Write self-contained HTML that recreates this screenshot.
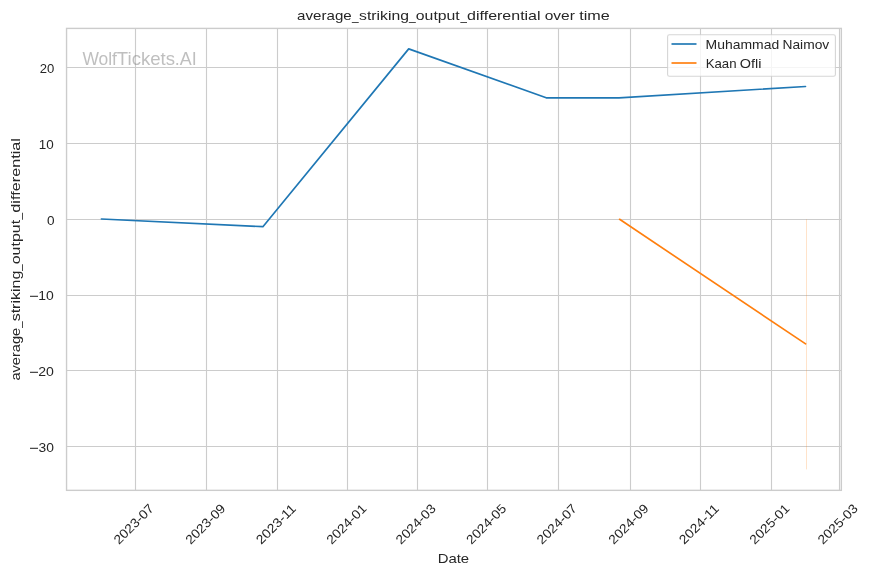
<!DOCTYPE html>
<html><head><meta charset="utf-8"><title>average_striking_output_differential over time</title>
<style>html,body{margin:0;padding:0;background:#fff;}svg{display:block;will-change:transform;}text{font-family:"Liberation Sans",sans-serif;fill:#262626;}</style></head><body>
<svg width="871" height="575" viewBox="0 0 871 575">
<rect x="0" y="0" width="871" height="575" fill="#ffffff"/>
<line x1="135.50" y1="28.40" x2="135.50" y2="490.35" stroke="#cccccc" stroke-width="1.11"/>
<line x1="206.50" y1="28.40" x2="206.50" y2="490.35" stroke="#cccccc" stroke-width="1.11"/>
<line x1="277.50" y1="28.40" x2="277.50" y2="490.35" stroke="#cccccc" stroke-width="1.11"/>
<line x1="347.50" y1="28.40" x2="347.50" y2="490.35" stroke="#cccccc" stroke-width="1.11"/>
<line x1="417.50" y1="28.40" x2="417.50" y2="490.35" stroke="#cccccc" stroke-width="1.11"/>
<line x1="487.50" y1="28.40" x2="487.50" y2="490.35" stroke="#cccccc" stroke-width="1.11"/>
<line x1="558.50" y1="28.40" x2="558.50" y2="490.35" stroke="#cccccc" stroke-width="1.11"/>
<line x1="630.50" y1="28.40" x2="630.50" y2="490.35" stroke="#cccccc" stroke-width="1.11"/>
<line x1="700.50" y1="28.40" x2="700.50" y2="490.35" stroke="#cccccc" stroke-width="1.11"/>
<line x1="771.50" y1="28.40" x2="771.50" y2="490.35" stroke="#cccccc" stroke-width="1.11"/>
<line x1="839.50" y1="28.40" x2="839.50" y2="490.35" stroke="#cccccc" stroke-width="1.11"/>
<line x1="66.55" y1="67.50" x2="841.35" y2="67.50" stroke="#cccccc" stroke-width="1.11"/>
<line x1="66.55" y1="143.50" x2="841.35" y2="143.50" stroke="#cccccc" stroke-width="1.11"/>
<line x1="66.55" y1="219.50" x2="841.35" y2="219.50" stroke="#cccccc" stroke-width="1.11"/>
<line x1="66.55" y1="295.50" x2="841.35" y2="295.50" stroke="#cccccc" stroke-width="1.11"/>
<line x1="66.55" y1="370.50" x2="841.35" y2="370.50" stroke="#cccccc" stroke-width="1.11"/>
<line x1="66.55" y1="446.50" x2="841.35" y2="446.50" stroke="#cccccc" stroke-width="1.11"/>
<text y="64.7" font-size="17.9" style="fill:#808080" fill-opacity="0.5"><tspan x="82.42" textLength="34.55" lengthAdjust="spacingAndGlyphs">Wolf</tspan><tspan x="116.88" textLength="58.19" lengthAdjust="spacingAndGlyphs">Tickets</tspan><tspan x="174.86" textLength="21.89" lengthAdjust="spacingAndGlyphs">.AI</tspan></text>
<line x1="806.5" y1="219.3" x2="806.5" y2="469.4" stroke="#ff7f0e" stroke-opacity="0.22" stroke-width="1"/>
<polyline fill="none" stroke="#1f77b4" stroke-width="1.67" stroke-linejoin="round" stroke-linecap="round" points="101.4,219.0 262.9,226.7 408.7,48.9 546.2,97.8 619.0,97.8 805.5,86.5"/>
<polyline fill="none" stroke="#ff7f0e" stroke-width="1.67" stroke-linejoin="round" stroke-linecap="round" points="619.6,219.3 805.6,343.9"/>
<rect x="66.55" y="28.40" width="774.80" height="461.95" fill="none" stroke="#cccccc" stroke-width="1.39"/>
<rect x="667.6" y="34.8" width="167.8" height="41.5" rx="1.9" ry="1.9" fill="#ffffff" fill-opacity="0.8" stroke="#cccccc" stroke-opacity="0.8" stroke-width="1.11"/>
<line x1="671.5" y1="44.0" x2="696.5" y2="44.0" stroke="#1f77b4" stroke-width="1.67"/>
<line x1="671.5" y1="63.0" x2="696.5" y2="63.0" stroke="#ff7f0e" stroke-width="1.67"/>
<text y="48.9" font-size="12.9"><tspan x="705.61" textLength="73.59" lengthAdjust="spacingAndGlyphs">Muhammad</tspan><tspan x="782.47" textLength="46.78" lengthAdjust="spacingAndGlyphs">Naimov</tspan></text>
<text y="67.75" font-size="12.9"><tspan x="705.66" textLength="30.90" lengthAdjust="spacingAndGlyphs">Kaan</tspan><tspan x="739.82" textLength="21.66" lengthAdjust="spacingAndGlyphs">Ofli</tspan></text>
<text y="19.8" font-size="13.6"><tspan x="297.11" textLength="54.56" lengthAdjust="spacingAndGlyphs">average</tspan><tspan x="352.08" textLength="6.59" lengthAdjust="spacingAndGlyphs">_</tspan><tspan x="359.06" textLength="49.85" lengthAdjust="spacingAndGlyphs">striking</tspan><tspan x="408.88" textLength="6.68" lengthAdjust="spacingAndGlyphs">_</tspan><tspan x="415.84" textLength="43.88" lengthAdjust="spacingAndGlyphs">output</tspan><tspan x="460.47" textLength="6.40" lengthAdjust="spacingAndGlyphs">_</tspan><tspan x="467.13" textLength="73.44" lengthAdjust="spacingAndGlyphs">differential</tspan><tspan x="544.65" textLength="30.21" lengthAdjust="spacingAndGlyphs">over</tspan><tspan x="579.16" textLength="30.56" lengthAdjust="spacingAndGlyphs">time</tspan></text>
<text y="562.8" font-size="13.3"><tspan x="437.68" textLength="31.49" lengthAdjust="spacingAndGlyphs">Date</tspan></text>
<text transform="translate(19.8,380) rotate(-90)" y="0" font-size="13.6"><tspan x="-0.62" textLength="52.77" lengthAdjust="spacingAndGlyphs">average</tspan><tspan x="52.37" textLength="6.30" lengthAdjust="spacingAndGlyphs">_</tspan><tspan x="58.65" textLength="50.78" lengthAdjust="spacingAndGlyphs">striking</tspan><tspan x="109.27" textLength="6.30" lengthAdjust="spacingAndGlyphs">_</tspan><tspan x="115.73" textLength="44.39" lengthAdjust="spacingAndGlyphs">output</tspan><tspan x="160.48" textLength="6.49" lengthAdjust="spacingAndGlyphs">_</tspan><tspan x="167.32" textLength="74.67" lengthAdjust="spacingAndGlyphs">differential</tspan></text>
<text y="72.95" font-size="12.9"><tspan x="39.84" textLength="14.57" lengthAdjust="spacingAndGlyphs">20</tspan></text>
<text y="148.95" font-size="12.9"><tspan x="38.88" textLength="14.95" lengthAdjust="spacingAndGlyphs">10</tspan></text>
<text y="224.95" font-size="12.9"><tspan x="46.97" textLength="7.56" lengthAdjust="spacingAndGlyphs">0</tspan></text>
<text y="300.05" font-size="12.9"><tspan x="38.34" textLength="15.51" lengthAdjust="spacingAndGlyphs">10</tspan></text>
<line x1="30.0" y1="296.30" x2="38.0" y2="296.30" stroke="#262626" stroke-width="1.05"/>
<text y="376.05" font-size="12.9"><tspan x="38.19" textLength="15.66" lengthAdjust="spacingAndGlyphs">20</tspan></text>
<line x1="30.0" y1="372.30" x2="38.0" y2="372.30" stroke="#262626" stroke-width="1.05"/>
<text y="452.05" font-size="12.9"><tspan x="38.47" textLength="15.37" lengthAdjust="spacingAndGlyphs">30</tspan></text>
<line x1="30.0" y1="448.30" x2="38.0" y2="448.30" stroke="#262626" stroke-width="1.05"/>
<text transform="translate(133.60,524.00) rotate(-45)" y="4.5" font-size="12.9"><tspan x="-25.19" textLength="50.38" lengthAdjust="spacingAndGlyphs">2023-07</tspan></text>
<text transform="translate(205.27,524.00) rotate(-45)" y="4.5" font-size="12.9"><tspan x="-25.19" textLength="50.34" lengthAdjust="spacingAndGlyphs">2023-09</tspan></text>
<text transform="translate(275.79,524.00) rotate(-45)" y="4.5" font-size="12.9"><tspan x="-25.21" textLength="50.39" lengthAdjust="spacingAndGlyphs">2023-11</tspan></text>
<text transform="translate(346.30,524.00) rotate(-45)" y="4.5" font-size="12.9"><tspan x="-25.19" textLength="50.36" lengthAdjust="spacingAndGlyphs">2024-01</tspan></text>
<text transform="translate(415.66,524.00) rotate(-45)" y="4.5" font-size="12.9"><tspan x="-25.19" textLength="50.29" lengthAdjust="spacingAndGlyphs">2024-03</tspan></text>
<text transform="translate(486.18,524.00) rotate(-45)" y="4.5" font-size="12.9"><tspan x="-25.19" textLength="50.26" lengthAdjust="spacingAndGlyphs">2024-05</tspan></text>
<text transform="translate(556.70,524.00) rotate(-45)" y="4.5" font-size="12.9"><tspan x="-25.19" textLength="50.38" lengthAdjust="spacingAndGlyphs">2024-07</tspan></text>
<text transform="translate(628.37,524.00) rotate(-45)" y="4.5" font-size="12.9"><tspan x="-25.19" textLength="50.34" lengthAdjust="spacingAndGlyphs">2024-09</tspan></text>
<text transform="translate(698.88,524.00) rotate(-45)" y="4.5" font-size="12.9"><tspan x="-25.21" textLength="50.39" lengthAdjust="spacingAndGlyphs">2024-11</tspan></text>
<text transform="translate(769.40,524.00) rotate(-45)" y="4.5" font-size="12.9"><tspan x="-25.19" textLength="50.36" lengthAdjust="spacingAndGlyphs">2025-01</tspan></text>
<text transform="translate(837.60,524.00) rotate(-45)" y="4.5" font-size="12.9"><tspan x="-25.19" textLength="50.29" lengthAdjust="spacingAndGlyphs">2025-03</tspan></text>
</svg></body></html>
